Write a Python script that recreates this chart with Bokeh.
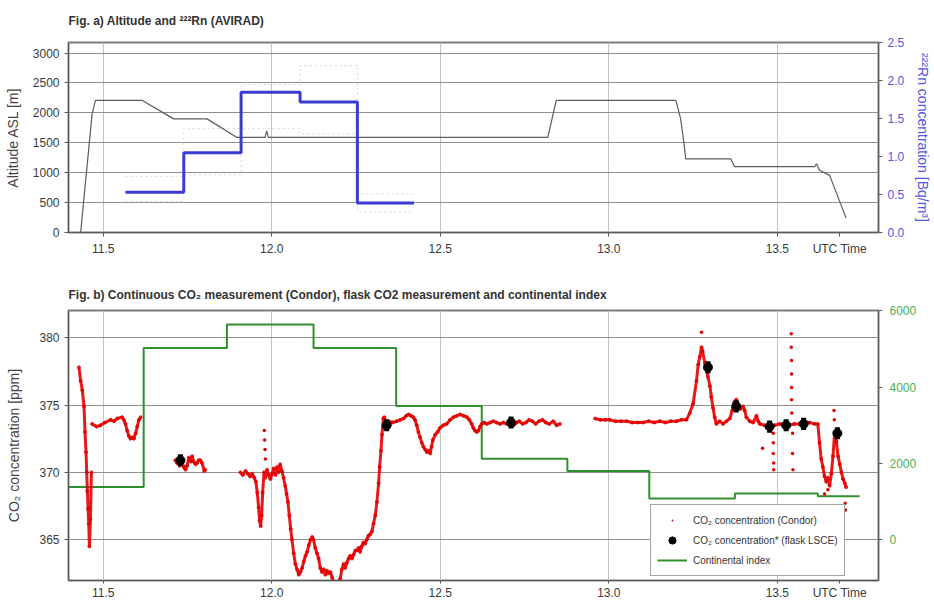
import math
import numpy as np
from bokeh.plotting import figure
from bokeh.layouts import column
from bokeh.models import (Range1d, LinearAxis, FixedTicker, Legend, LegendItem,
                          Label)
from bokeh.embed import file_html
from bokeh.resources import INLINE

FONT = "Liberation Sans"

# ---------------- time axis (decimal UTC hours) ----------------
x_ticks = [11.5, 12.0, 12.5, 13.0, 13.5]
x_tick_labels = ["11.5", "12.0", "12.5", "13.0", "13.5"]

# ---------------- Fig. a: aircraft altitude ----------------
alt_time = [11.433, 11.467, 11.477, 11.615, 11.709, 11.808, 11.897, 11.980, 11.985,
            11.990, 12.819, 12.844, 13.199, 13.213, 13.223, 13.228, 13.362, 13.373,
            13.611, 13.616, 13.625, 13.655, 13.704]
alt_m = [0, 1980, 2210, 2210, 1900, 1900, 1590, 1590, 1700, 1590, 1590, 2210, 2210,
         1900, 1490, 1230, 1230, 1100, 1100, 1150, 1040, 955, 240]
alt_ticks = [0, 500, 1000, 1500, 2000, 2500, 3000]

# ---------------- Fig. a: 222Rn (AVIRAD), step averages ----------------
rn_edges = [11.566, 11.739, 11.909, 12.084, 12.254, 12.422]
rn_bq = [0.53, 1.05, 1.85, 1.72, 0.39]
rn_upper = [0.74, 1.37, 1.95, 2.20, 0.51]
rn_lower = [0.41, 0.76, 1.37, 1.30, 0.27]
rn_ticks = [0.0, 0.5, 1.0, 1.5, 2.0, 2.5]

# ---------------- Fig. b: continuous CO2 (Condor), flight segments ----------------
co2_seg_time = [
    [11.428, 11.433, 11.438, 11.443, 11.446, 11.449, 11.451, 11.453, 11.455, 11.457,
     11.459, 11.462, 11.465],
    [11.467, 11.480, 11.492, 11.505, 11.522, 11.532, 11.542, 11.556, 11.561, 11.566,
     11.571, 11.576, 11.581, 11.586, 11.591, 11.596, 11.601, 11.606, 11.611],
    [11.714, 11.719, 11.727, 11.734, 11.739, 11.744, 11.749, 11.754, 11.760, 11.764,
     11.768, 11.774, 11.779, 11.783, 11.788, 11.793, 11.800, 11.803],
    [11.907, 11.914, 11.922, 11.929, 11.936, 11.942, 11.948, 11.953, 11.957, 11.961,
     11.964, 11.967, 11.970, 11.973, 11.977, 11.981, 11.986, 11.991, 11.996, 12.001,
     12.006, 12.011, 12.016, 12.020, 12.025, 12.030, 12.035, 12.040, 12.044, 12.048,
     12.052, 12.056, 12.060, 12.065, 12.070, 12.075, 12.080, 12.085, 12.090, 12.095,
     12.100, 12.105, 12.110, 12.115, 12.120, 12.124, 12.129, 12.134, 12.139, 12.144,
     12.149, 12.154, 12.159, 12.164, 12.169, 12.174, 12.179, 12.184, 12.190, 12.196,
     12.203, 12.208, 12.213, 12.218, 12.223, 12.228, 12.233, 12.238, 12.243, 12.248,
     12.253, 12.258, 12.262, 12.267, 12.272, 12.277, 12.282, 12.287, 12.292, 12.297,
     12.302, 12.307, 12.312, 12.317, 12.320, 12.324, 12.327, 12.331, 12.334, 12.340,
     12.346, 12.358, 12.371, 12.381, 12.391, 12.399, 12.406, 12.413, 12.420, 12.425,
     12.430, 12.435, 12.440, 12.445, 12.450, 12.455, 12.460, 12.465, 12.470, 12.474,
     12.478, 12.485, 12.492, 12.499, 12.509, 12.519, 12.529, 12.539, 12.549, 12.559,
     12.569, 12.579, 12.586, 12.593, 12.598, 12.603, 12.608, 12.613, 12.618, 12.623,
     12.630, 12.638, 12.648, 12.657, 12.667, 12.677, 12.687, 12.697, 12.707, 12.717,
     12.727, 12.734, 12.744, 12.754, 12.763, 12.773, 12.783, 12.793, 12.803, 12.813,
     12.823, 12.835, 12.845, 12.855],
    [12.959, 12.975, 12.990, 13.003, 13.020, 13.036, 13.053, 13.069, 13.086, 13.102,
     13.118, 13.135, 13.151, 13.168, 13.184, 13.201, 13.215, 13.230, 13.240, 13.250,
     13.260, 13.265, 13.270, 13.275, 13.278, 13.285, 13.290, 13.294, 13.300, 13.304,
     13.309, 13.314, 13.319, 13.329, 13.339, 13.349, 13.359, 13.366, 13.372, 13.378,
     13.383, 13.390, 13.398, 13.403, 13.408, 13.418, 13.428, 13.438, 13.443, 13.448,
     13.462, 13.477, 13.492, 13.507, 13.522, 13.536, 13.550, 13.566, 13.578, 13.595,
     13.610, 13.620, 13.625, 13.630, 13.635, 13.640, 13.645, 13.650, 13.655, 13.660,
     13.665, 13.670, 13.675, 13.680, 13.685, 13.690, 13.695, 13.700, 13.704],
]
co2_seg_ppm = [
    [377.8, 376.8, 376.1, 374.9, 373.0, 371.5, 370.0, 368.6, 367.3, 366.2, 364.5,
     366.5, 370.0],
    [373.6, 373.4, 373.5, 373.7, 373.9, 373.8, 374.0, 374.1, 373.9, 373.6, 373.1,
     372.7, 372.5, 372.6, 372.5, 372.9, 373.4, 373.9, 374.1],
    [370.9, 370.7, 370.5, 370.8, 370.4, 370.2, 370.5, 371.1, 370.8, 371.2, 370.8,
     370.6, 370.7, 370.9, 370.9, 370.7, 370.1, 370.2],
    [370.0, 369.8, 370.1, 369.9, 369.7, 369.9, 369.6, 369.3, 368.5, 367.4, 366.4,
     366.0, 366.8, 368.5, 370.0, 369.6, 370.2, 369.8, 369.5, 369.9, 370.3, 369.8,
     370.4, 370.0, 370.6, 370.1, 369.6, 369.0, 368.4, 367.8, 366.8, 365.8, 365.0,
     364.0, 363.2, 362.8, 362.4, 362.6, 362.9, 363.4, 363.8, 364.1, 364.6, 365.0,
     365.2, 365.0, 364.4, 364.0, 363.6, 362.9, 362.6, 362.8, 362.4, 362.7, 362.5,
     362.6, 362.2, 361.8, 361.4, 361.6, 362.1, 362.8, 363.2, 362.9, 363.3, 363.6,
     363.8, 363.6, 363.9, 364.2, 364.2, 364.4, 364.1, 364.5, 364.8, 364.7, 365.0,
     365.3, 365.4, 365.6, 366.2, 366.8, 367.8, 369.2, 370.4, 371.6, 372.8, 374.0,
     374.1, 373.7, 373.8, 373.7, 373.8, 373.9, 374.0, 374.2, 374.3, 374.2, 374.1,
     373.9, 373.5, 373.0, 372.6, 372.2, 371.9, 371.7, 371.5, 371.6, 371.4, 371.9,
     372.4, 372.8, 373.0, 373.3, 373.5, 373.6, 373.9, 374.1, 374.2, 374.3, 374.2,
     374.1, 373.9, 373.6, 373.3, 373.1, 373.0, 373.1, 373.4, 373.6, 373.7, 373.6,
     373.7, 373.8, 373.7, 373.6, 373.7, 373.6, 373.7, 373.5, 373.7, 373.8, 373.6,
     373.7, 373.9, 373.8, 373.6, 373.8, 373.9, 373.7, 373.6, 373.8, 373.5, 373.6],
    [374.0, 373.9, 373.9, 373.9, 373.8, 373.8, 373.8, 373.7, 373.7, 373.7, 373.8,
     373.7, 373.8, 373.7, 373.8, 373.8, 373.9, 373.9, 374.4, 375.1, 376.8, 378.0,
     378.6, 379.3, 379.0, 378.1, 377.6, 377.1, 376.4, 375.6, 374.8, 374.1, 373.6,
     373.8, 373.6, 373.8, 374.0, 374.6, 375.2, 375.4, 375.1, 374.7, 374.9, 374.6,
     374.1, 373.8, 373.7, 374.2, 373.8, 373.6, 373.5, 373.4, 373.5, 373.6, 373.6,
     373.5, 373.6, 373.6, 373.6, 373.7, 373.6, 373.6, 372.2, 371.0, 370.4, 369.7,
     369.3, 369.6, 369.0, 369.9, 371.2, 373.0, 372.3, 371.2, 370.6, 370.0, 369.5,
     369.2, 368.9],
]

# isolated Condor samples (fast profiles / spikes)
co2_sparse_time = [11.978, 11.979, 11.980, 11.981, 13.275, 13.488, 13.488, 13.488,
                   13.489, 13.489, 13.541, 13.541, 13.542, 13.542, 13.542, 13.542,
                   13.543, 13.545, 13.545, 13.546, 13.668, 13.669, 13.701, 13.702,
                   13.456, 13.640, 13.650]
co2_sparse_ppm = [373.1, 372.4, 371.7, 371.0, 380.4, 372.9, 372.2, 371.4, 370.7,
                  370.2, 380.3, 379.3, 378.3, 377.3, 376.3, 375.4, 374.4, 372.9,
                  371.4, 370.2, 374.6, 373.9, 367.7, 367.2, 371.8, 368.4, 368.7]

# ---------------- Fig. b: flask samples (LSCE) ----------------
flask_time = [11.729, 12.341, 12.710, 13.294, 13.378, 13.477, 13.526, 13.578, 13.678]
flask_ppm = [370.9, 373.5, 373.7, 377.8, 374.9, 373.4, 373.5, 373.6, 372.9]

# ---------------- Fig. b: continental index ----------------
ci_edges = [11.380, 11.620, 11.867, 12.124, 12.369, 12.623, 12.877, 13.120, 13.374,
            13.620, 13.744]
ci_values = [1380, 5020, 5640, 5020, 3500, 2120, 1800, 1080, 1210, 1140]

co2_ticks = [365, 370, 375, 380]
ci_ticks = [0, 2000, 4000, 6000]

# ---------------- colours ----------------
RED = "#e40000"
BLUE = "#3b3bd4"
BLUE_TXT = "#5656e0"
GREEN = "#2f8f2f"
GREEN_TXT = "#4db04d"
GRID_H = "#8f8f8f"
GRID_V = "#c4c4c4"
TXT = "#3a3a3a"


def style_axis(ax, color=TXT, size="12px"):
    ax.major_label_text_font = FONT
    ax.major_label_text_font_size = size
    ax.major_label_text_color = color
    ax.axis_label_text_font = FONT
    ax.axis_label_text_font_size = "14px"
    ax.axis_label_text_font_style = "normal"
    ax.axis_line_color = "#5a5a5a"
    ax.major_tick_line_color = "#5a5a5a"
    ax.minor_tick_line_color = None
    ax.major_tick_in = 0
    ax.major_tick_out = 4


def style_frame(p, title_gap):
    p.background_fill_color = "white"
    p.border_fill_color = "white"
    p.outline_line_color = "#7a7a7a"
    p.outline_line_width = 2
    p.title.text_font = FONT
    p.title.text_font_size = "12px"
    p.title.text_font_style = "bold"
    p.title.text_color = "#333333"
    p.title.align = "left"
    p.title.vertical_align = "top"
    p.title.standoff = title_gap
    p.xgrid.ticker = FixedTicker(ticks=x_ticks)
    p.xgrid.grid_line_color = GRID_V
    p.ygrid.grid_line_color = GRID_H
    xa = p.xaxis[0]
    style_axis(xa)
    xa.ticker = FixedTicker(ticks=x_ticks + [13.685])
    xa.major_label_overrides = {**{t: s for t, s in zip(x_ticks, x_tick_labels)},
                                13.685: "UTC Time"}
    xa.major_label_standoff = 5


def steps(edges, values):
    return list(edges), list(values) + [values[-1]]


# ======================= Fig. a =======================
top = figure(width=934, height=262, x_range=Range1d(11.397, 13.80),
             y_range=Range1d(0, 3177), output_backend="svg", toolbar_location=None,
             min_border_left=68, min_border_right=55, min_border_top=42,
             min_border_bottom=30, title="Fig. a) Altitude and \u00b2\u00b2\u00b2Rn (AVIRAD)")
top.extra_y_ranges = {"rn": Range1d(0, 2.505)}
style_frame(top, 25)

ya = top.yaxis[0]
style_axis(ya)
ya.ticker = FixedTicker(ticks=alt_ticks)
ya.axis_label = "Altitude ASL [m]"
ya.axis_label_text_color = "#444444"
ya.axis_label_standoff = 9

rn_axis = LinearAxis(y_range_name="rn", ticker=FixedTicker(ticks=rn_ticks),
                     axis_label="\u00b2\u00b2\u00b2Rn concentration [Bq/m\u00b3]")
style_axis(rn_axis, color=BLUE_TXT)
rn_axis.axis_label_text_color = BLUE_TXT
rn_axis.major_label_overrides = {t: f"{t:.1f}" for t in rn_ticks}
rn_axis.major_label_standoff = 5
rn_axis.axis_label_standoff = 8
top.add_layout(rn_axis, "right")

# radon uncertainty envelope (faint dotted steps)
for bound in (rn_upper, rn_lower):
    ex, ey = steps(rn_edges, bound)
    top.step(ex, ey, mode="after", y_range_name="rn", line_color="#d2d2f4",
             line_dash="2 3", line_width=1)

# altitude
top.line(alt_time, alt_m, line_color="#5c5c5c", line_width=1.2)

# radon step averages
sx, sy = steps(rn_edges, rn_bq)
top.step(sx, sy, mode="after", y_range_name="rn", line_color=BLUE, line_width=3)

# ======================= Fig. b =======================
bot = figure(width=934, height=340, x_range=Range1d(11.397, 13.80),
             y_range=Range1d(361.97, 382.02), output_backend="svg",
             toolbar_location=None, min_border_left=67, min_border_right=56,
             min_border_top=48, min_border_bottom=21,
             title="Fig. b) Continuous CO\u2082 measurement (Condor), flask CO2 "
                   "measurement and continental index")
bot.extra_y_ranges = {"ci": Range1d(-1070, 6005)}
style_frame(bot, 14)
bot.xaxis[0].major_tick_out = 3
bot.xaxis[0].major_label_standoff = 2

yb = bot.yaxis[0]
style_axis(yb)
yb.ticker = FixedTicker(ticks=co2_ticks)
yb.axis_label = "CO\u2082 concentration [ppm]"
yb.axis_label_text_color = "#444444"
yb.axis_label_standoff = 14

ci_axis = LinearAxis(y_range_name="ci", ticker=FixedTicker(ticks=ci_ticks))
style_axis(ci_axis, color=GREEN_TXT)
ci_axis.major_label_standoff = 7
bot.add_layout(ci_axis, "right")

bot.add_layout(Label(x=852, y=135, x_units="screen", y_units="screen",
                     text="Continental index", angle=math.pi / 2,
                     text_align="center", text_baseline="middle",
                     text_font=FONT, text_font_size="14px", text_color=GREEN_TXT))

# continental index
cx, cy = steps(ci_edges, ci_values)
r_ci = bot.step(cx, cy, mode="after", y_range_name="ci", line_color=GREEN, line_width=2)

# continuous CO2 trace, flight segments separated by gaps
tt, pp = [], []
for ts, ps in zip(co2_seg_time, co2_seg_ppm):
    tt += ts + [np.nan]
    pp += ps + [np.nan]
bot.line(tt, pp, line_color=RED, line_width=3, line_alpha=0.9)
bot.scatter([t for t in tt if t == t], [p for p in pp if p == p], size=3,
            color=RED, alpha=0.8)
r_dots = bot.scatter(co2_sparse_time, co2_sparse_ppm, marker="dot", size=14,
                     line_color=RED, fill_color=RED)

# flask samples with their uncertainty bars
bot.segment(flask_time, [v - 0.45 for v in flask_ppm], flask_time,
            [v + 0.45 for v in flask_ppm], line_color="black", line_width=5)
r_flask = bot.scatter(flask_time, flask_ppm, size=9, color="black")

legend = Legend(items=[
    LegendItem(label="CO\u2082 concentration (Condor)", renderers=[r_dots]),
    LegendItem(label="CO\u2082 concentration* (flask LSCE)", renderers=[r_flask]),
    LegendItem(label="Continental index", renderers=[r_ci]),
], location=(582, 4))
legend.label_text_font = FONT
legend.label_text_font_size = "10px"
legend.label_text_color = "#333333"
legend.border_line_color = "#4a4a4a"
legend.border_line_width = 1
legend.background_fill_alpha = 1
legend.padding = 6
legend.spacing = 2
legend.label_height = 18
legend.glyph_height = 18
legend.glyph_width = 30
legend.label_standoff = 6
legend.margin = 0
bot.add_layout(legend)

layout = column(top, bot, spacing=0)
open("out.html", "w").write(file_html(layout, INLINE))
